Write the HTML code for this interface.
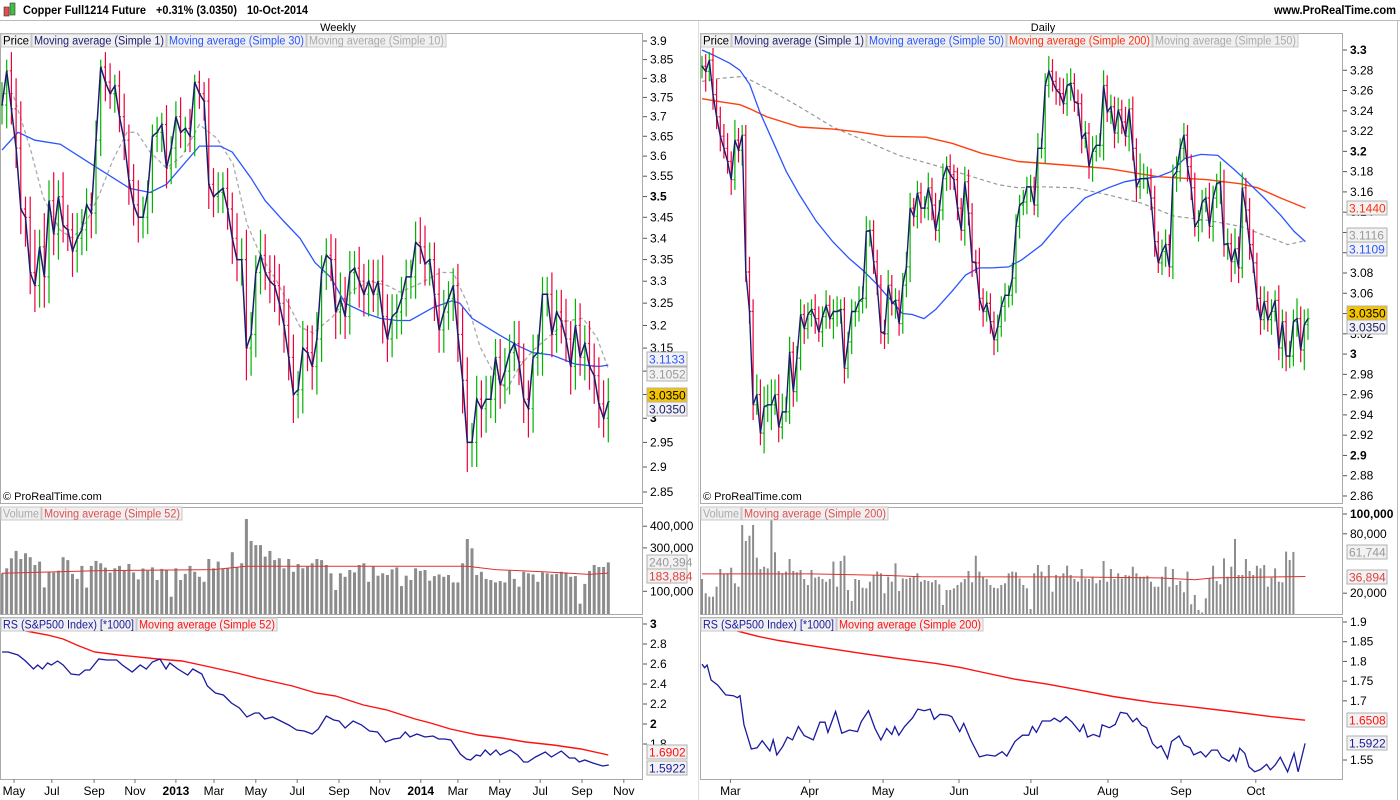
<!DOCTYPE html>
<html><head><meta charset="utf-8"><style>
html,body{margin:0;padding:0;background:#fff;}
svg{display:block;font-family:"Liberation Sans",Arial,sans-serif;}
</style></head><body>
<svg id="chart" width="1400" height="800" viewBox="0 0 1400 800" xmlns="http://www.w3.org/2000/svg">
<defs>
<clipPath id="cwp"><rect x="1" y="48" width="641" height="455"/></clipPath>
<clipPath id="cwv"><rect x="1" y="519" width="641" height="95"/></clipPath>
<clipPath id="cwr"><rect x="1" y="618" width="641" height="161"/></clipPath>
<clipPath id="cdp"><rect x="701" y="48" width="641" height="455"/></clipPath>
<clipPath id="cdv"><rect x="701" y="519" width="641" height="95"/></clipPath>
<clipPath id="cdr"><rect x="701" y="618" width="641" height="161"/></clipPath>
</defs>
<rect x="0" y="0" width="1400" height="800" fill="#fff"/>
<g>
<rect x="4" y="7" width="5" height="9" fill="#e05050" stroke="#333" stroke-width="0.6"/>
<rect x="10" y="3" width="5" height="12" fill="#40c040" stroke="#333" stroke-width="0.6"/>
<text x="23" y="14" font-size="12" font-weight="bold" fill="#000" textLength="123" lengthAdjust="spacingAndGlyphs">Copper Full1214 Future</text>
<text x="156" y="14" font-size="12" font-weight="bold" fill="#000" textLength="81" lengthAdjust="spacingAndGlyphs">+0.31% (3.0350)</text>
<text x="247" y="14" font-size="12" font-weight="bold" fill="#000" textLength="61" lengthAdjust="spacingAndGlyphs">10-Oct-2014</text>
<text x="1274" y="14" font-size="12" font-weight="bold" fill="#000" textLength="122" lengthAdjust="spacingAndGlyphs">www.ProRealTime.com</text>
<line x1="0" y1="20.5" x2="1400" y2="20.5" stroke="#bbb"/>
</g>
<text x="338" y="31" font-size="11" text-anchor="middle">Weekly</text>
<text x="1043" y="31" font-size="11" text-anchor="middle">Daily</text>
<line x1="1397.5" y1="21" x2="1397.5" y2="800" stroke="#bbb"/>
<line x1="698.5" y1="21" x2="698.5" y2="800" stroke="#ddd"/>
<g id="frames"></g>
<g id="marks"></g>
<g id="labels"></g>
</svg>
<script>
// ===== Weekly data =====
const wkClose=[3.73,3.82,3.72,3.62,3.47,3.45,3.32,3.29,3.38,3.31,3.49,3.41,3.50,3.43,3.42,3.37,3.40,3.42,3.48,3.46,3.64,3.83,3.79,3.76,3.78,3.70,3.64,3.54,3.48,3.45,3.45,3.51,3.65,3.66,3.68,3.57,3.62,3.70,3.66,3.67,3.65,3.79,3.76,3.74,3.53,3.50,3.51,3.52,3.47,3.40,3.35,3.35,3.15,3.18,3.32,3.36,3.32,3.30,3.29,3.25,3.20,3.13,3.05,3.06,
3.15,3.14,3.11,3.17,3.32,3.36,3.35,3.23,3.26,3.22,3.32,3.33,3.30,3.27,3.30,3.27,3.30,3.22,3.17,3.22,3.23,3.26,3.31,3.31,3.39,3.38,3.34,3.35,3.27,3.19,3.23,3.26,3.29,3.18,3.08,2.95,2.95,3.04,3.02,3.04,3.04,3.13,3.07,3.10,3.14,3.16,3.12,3.04,3.02,3.13,3.14,3.27,3.27,3.18,3.23,3.21,3.17,3.11,3.20,3.13,3.16,3.11,3.09,3.03,3.00,3.035];
const wkHiWick=[0.06,0.03,0.05,0.08,0.12,0.03,0.05,0.10,0.04,0.08,0.05,0.07,0.04,0.06,0.05,0.04,0.06,0.05,0.04,0.03,0.05,0.02,0.04,0.05,0.03,0.04,0.06,0.04,0.04,0.06,0.05,0.03,0.03,0.04,0.03,0.05,0.03,0.04,0.05,0.03,0.05,0.02,0.03,0.03,0.06,0.04,0.05,0.04,0.05,0.04,0.06,0.05,0.07,0.05,0.04,0.06,0.05,0.04,0.06,0.05,0.04,0.06,0.05,0.04,
0.06,0.05,0.06,0.06,0.04,0.04,0.05,0.05,0.06,0.05,0.05,0.04,0.05,0.04,0.05,0.05,0.05,0.06,0.05,0.05,0.04,0.05,0.04,0.04,0.05,0.06,0.05,0.04,0.04,0.06,0.05,0.04,0.04,0.05,0.06,0.05,0.04,0.05,0.04,0.05,0.05,0.04,0.04,0.05,0.04,0.05,0.05,0.04,0.04,0.05,0.04,0.04,0.04,0.05,0.05,0.05,0.05,0.04,0.06,0.05,0.04,0.05,0.05,0.04,0.05,0.05];
const wkLoWick=[0.05,0.06,0.04,0.05,0.06,0.07,0.05,0.06,0.05,0.07,0.06,0.05,0.06,0.04,0.05,0.06,0.05,0.04,0.05,0.06,0.05,0.04,0.05,0.04,0.05,0.04,0.05,0.06,0.05,0.06,0.05,0.04,0.05,0.04,0.05,0.05,0.04,0.05,0.04,0.05,0.04,0.05,0.04,0.05,0.06,0.05,0.04,0.05,0.05,0.06,0.05,0.06,0.07,0.06,0.05,0.05,0.04,0.05,0.06,0.05,0.06,0.05,0.06,0.05,
0.05,0.04,0.05,0.06,0.05,0.04,0.05,0.06,0.05,0.05,0.04,0.05,0.06,0.05,0.05,0.04,0.05,0.06,0.05,0.04,0.05,0.05,0.04,0.05,0.05,0.04,0.05,0.05,0.06,0.05,0.05,0.04,0.05,0.06,0.07,0.06,0.05,0.05,0.06,0.05,0.04,0.05,0.05,0.04,0.05,0.04,0.05,0.05,0.06,0.05,0.04,0.05,0.05,0.05,0.04,0.05,0.05,0.06,0.05,0.04,0.05,0.05,0.06,0.05,0.04,0.05];
const wkMa30Idx=[0,3.4,7,12.4,19,27.2,31.5,35,42,46.4,49,53,56,60,63.4,66.6,70,73,77.7,80.4,84,86.8,91.7,95.7,97.4,100,106,110,113,117,122,127,129];
const wkMa30Val=[3.615,3.66,3.64,3.63,3.58,3.52,3.51,3.53,3.625,3.625,3.61,3.545,3.49,3.44,3.40,3.343,3.308,3.25,3.226,3.216,3.211,3.211,3.24,3.255,3.25,3.216,3.178,3.154,3.14,3.135,3.115,3.11,3.113];
const wkMa10Idx=[0,2.3,6,8.7,12.3,15,18,20.9,23.6,26.6,28.7,31.5,35,38.3,42,45.7,49.2,52.1,55,58.5,63.4,66.2,70.4,74.7,78.3,82,84.7,89,93.2,96,99,101.7,104.5,107.4,110,113,117.2,120.2,123.6,126.6,129];
const wkMa10Val=[3.76,3.76,3.62,3.50,3.42,3.40,3.44,3.51,3.59,3.66,3.66,3.61,3.57,3.60,3.68,3.645,3.58,3.435,3.36,3.30,3.197,3.183,3.22,3.28,3.30,3.29,3.275,3.295,3.32,3.32,3.25,3.153,3.098,3.06,3.108,3.145,3.183,3.21,3.216,3.173,3.105];
const wkVolume=[183,206,252,286,249,275,257,221,237,118,190,186,195,257,244,180,157,217,117,217,240,229,209,186,206,217,195,226,187,155,205,195,210,152,203,198,75,206,152,180,217,190,167,144,249,206,237,203,206,280,210,229,467,332,313,313,260,286,244,252,206,249,190,226,206,214,229,249,244,221,183,106,183,167,198,187,221,229,144,214,172,183,175,201,210,124,172,152,206,194,198,149,170,178,167,175,141,141,229,341,298,175,190,157,152,141,147,141,195,157,121,190,183,178,144,187,183,178,180,190,187,167,170,43,134,194,221,212,212,233];
const wkVolMaIdx=[0,20,45,52,70,90,99,105,115,125,129];
const wkVolMaVal=[183,195,200,215,215,215,215,200,190,178,184];
const wkRsIdx=[0,1.3,3.4,5,6.7,7.6,8.6,9.7,10.5,11.8,13,14.7,16.4,17.7,18.7,20.6,22.3,24.4,25.6,27.7,29.4,30.7,32,33.6,34.9,35.7,37.4,39.5,40.6,42.5,43.7,45.4,47.1,48.8,50.5,52.1,53.8,54.7,55.9,57.6,59.3,61,62.7,64.3,66,67.3,69,70.6,71.7,73,74.7,76.5,78.2,79.9,81.6,83.3,84.7,85.8,86.8,88.3,90,91.7,92.9,94.2,95.5,97.5,98.8,99.7,100.9,101.8,102.8,103.9,105.1,106,108.1,109.7,111,111.9,113.5,115.6,116.9,119,120.7,121.9,122.8,124,125.7,127.8,129.1];
const wkRsVal=[2.72,2.72,2.69,2.63,2.55,2.59,2.55,2.61,2.59,2.63,2.59,2.50,2.49,2.54,2.54,2.65,2.64,2.64,2.59,2.52,2.59,2.55,2.62,2.65,2.55,2.61,2.55,2.49,2.55,2.50,2.38,2.31,2.29,2.21,2.16,2.07,2.11,2.11,2.05,2.07,2.03,1.99,1.94,1.93,1.90,1.95,2.08,2.04,2.03,1.96,2.03,1.99,1.93,1.92,1.82,1.85,1.86,1.92,1.87,1.90,1.87,1.88,1.85,1.85,1.84,1.70,1.65,1.64,1.69,1.68,1.74,1.69,1.74,1.69,1.74,1.69,1.62,1.62,1.67,1.72,1.67,1.73,1.66,1.66,1.62,1.64,1.61,1.58,1.59];
const wkRsMaIdx=[0,5,9.7,13,16.4,19.7,24.8,33.2,38.3,43.3,50,54.2,61.8,66.8,71,76.9,81.9,87.9,91.2,95.4,101.3,106.4,111.4,117.3,123.2,129];
const wkRsMaVal=[3.02,2.93,2.89,2.85,2.78,2.72,2.69,2.65,2.63,2.58,2.51,2.46,2.38,2.31,2.28,2.19,2.14,2.05,2.01,1.95,1.89,1.86,1.82,1.79,1.75,1.69];
const wkMonthLabels=["May","Jul","Sep","Nov","2013","Mar","May","Jul","Sep","Nov","2014","Mar","May","Jul","Sep","Nov"];
const wkMonthIdx=[2.55,10.6,19.6,28.3,37,45.1,54,62.8,71.7,80.4,89.1,97,105.9,114.5,123.4,132.3];
const wkPriceTicks=[3.9,3.85,3.8,3.75,3.7,3.65,3.6,3.55,3.5,3.45,3.4,3.35,3.3,3.25,3.2,3.15,3.1,3.05,3,2.95,2.9,2.85];
const wkVolTicks=[400000,300000,100000];
const wkRsTicks=[3,2.8,2.6,2.4,2.2,2,1.8];

// ===== Daily data =====
const dyClose=[3.284,3.279,3.29,3.256,3.234,3.215,3.203,3.19,3.172,3.211,3.201,3.216,3.081,3.042,2.95,2.96,2.922,2.948,2.95,2.95,2.96,2.928,2.943,2.943,3.002,2.963,2.996,3.039,3.025,3.039,3.044,3.035,3.022,3.037,3.048,3.035,3.042,3.042,3.044,2.986,3.012,3.042,3.042,3.052,3.055,3.121,3.122,3.091,3.068,3.022,3.02,3.068,3.05,3.053,3.03,3.068,3.086,3.144,3.136,3.159,3.144,3.144,3.164,3.147,3.122,3.142,3.173,3.185,3.177,3.172,3.144,3.122,3.17,3.139,3.091,3.09,3.055,3.042,3.05,3.032,3.014,3.027,3.047,3.058,3.058,3.075,3.126,3.147,
3.15,3.165,3.165,3.147,3.203,3.203,3.265,3.279,3.269,3.261,3.257,3.247,3.265,3.267,3.249,3.247,3.213,3.218,3.185,3.2,3.206,3.206,3.265,3.239,3.244,3.218,3.241,3.229,3.215,3.242,3.203,3.165,3.173,3.173,3.173,3.154,3.111,3.09,3.101,3.108,3.086,3.175,3.18,3.203,3.216,3.185,3.164,3.126,3.132,3.15,3.154,3.126,3.154,3.168,3.17,3.108,3.109,3.091,3.104,3.085,3.164,3.142,3.108,3.09,3.055,3.034,3.052,3.034,3.042,3.053,3.006,3.032,2.998,2.998,3.032,3.035,3.004,3.029,3.035];
const dyHiWick=[0.01,0.012,0.008,0.02,0.015,0.01,0.012,0.015,0.01,0.02,0.012,0.01,0.01,0.015,0.012,0.02,0.015,0.02,0.02,0.025,0.015,0.02,0.018,0.015,0.015,0.01,0.012,0.015,0.01,0.012,0.01,0.015,0.012,0.01,0.015,0.01,0.012,0.015,0.01,0.012,0.01,0.012,0.01,0.015,0.012,0.015,0.01,0.01,0.012,0.01,0.012,0.015,0.01,0.012,0.01,0.012,0.015,0.015,0.01,0.012,0.01,0.012,0.015,0.01,0.012,0.01,0.015,0.01,0.012,0.01,0.012,0.01,0.015,0.012,0.01,0.012,0.015,0.01,0.012,0.01,0.01,0.012,0.01,0.012,0.01,0.015,0.012,0.01,
0.012,0.01,0.012,0.01,0.015,0.01,0.012,0.015,0.012,0.01,0.012,0.015,0.012,0.015,0.01,0.012,0.01,0.012,0.01,0.015,0.01,0.012,0.015,0.01,0.012,0.01,0.012,0.01,0.015,0.01,0.012,0.01,0.025,0.015,0.012,0.01,0.012,0.01,0.012,0.015,0.01,0.012,0.015,0.01,0.012,0.01,0.012,0.015,0.01,0.012,0.01,0.015,0.012,0.01,0.02,0.012,0.015,0.01,0.02,0.012,0.015,0.01,0.012,0.015,0.01,0.012,0.015,0.01,0.012,0.01,0.015,0.012,0.01,0.015,0.012,0.02,0.012,0.015,0.01];
const dyLoWick=[0.012,0.02,0.01,0.015,0.012,0.015,0.01,0.012,0.015,0.01,0.012,0.015,0.01,0.012,0.015,0.01,0.012,0.02,0.015,0.025,0.01,0.015,0.012,0.01,0.012,0.015,0.01,0.012,0.015,0.01,0.012,0.015,0.01,0.015,0.012,0.01,0.02,0.015,0.012,0.015,0.01,0.012,0.015,0.01,0.012,0.01,0.015,0.012,0.01,0.012,0.015,0.01,0.012,0.015,0.012,0.01,0.012,0.015,0.01,0.012,0.015,0.01,0.012,0.015,0.01,0.012,0.01,0.012,0.015,0.01,0.012,0.01,0.015,0.012,0.015,0.01,0.012,0.015,0.01,0.012,0.015,0.012,0.01,0.015,0.012,0.01,0.015,0.012,
0.01,0.012,0.015,0.01,0.012,0.01,0.015,0.012,0.01,0.015,0.012,0.01,0.012,0.015,0.01,0.012,0.015,0.01,0.012,0.015,0.01,0.012,0.015,0.01,0.012,0.015,0.01,0.012,0.01,0.015,0.012,0.015,0.012,0.01,0.015,0.012,0.015,0.01,0.012,0.015,0.01,0.012,0.015,0.01,0.012,0.015,0.012,0.01,0.015,0.012,0.01,0.012,0.015,0.01,0.02,0.012,0.015,0.02,0.012,0.015,0.01,0.012,0.015,0.01,0.012,0.015,0.01,0.012,0.015,0.01,0.012,0.02,0.015,0.012,0.01,0.015,0.012,0.02,0.015];
const dyMa50Idx=[0,3.1,7.6,10.4,13.1,15.8,19.4,23.1,26.7,31.3,35.8,40.4,44,47.6,51.3,54.9,57.6,60.8,64,68.5,72.2,75.8,79.4,84,87.6,93.1,98.5,104.9,111.3,115.8,120.3,124.9,128.5,132.2,136.7,141.3,145.8,149.4,154,158.5,162.2,165.3];
const dyMa50Val=[3.3,3.295,3.287,3.28,3.266,3.239,3.21,3.18,3.157,3.131,3.111,3.094,3.083,3.07,3.055,3.04,3.039,3.035,3.044,3.062,3.078,3.085,3.085,3.086,3.093,3.108,3.131,3.154,3.164,3.17,3.173,3.175,3.18,3.193,3.197,3.196,3.182,3.17,3.154,3.137,3.121,3.111];
const dyMa200Idx=[0,4.9,10.4,13.1,17.8,26.7,35.8,43.1,50.4,61.3,68.5,76.7,86.7,97.6,111.3,124.9,138.5,147.6,152.2,158.5,165.3];
const dyMa200Val=[3.252,3.249,3.246,3.242,3.234,3.224,3.222,3.219,3.215,3.214,3.208,3.198,3.19,3.187,3.183,3.175,3.172,3.168,3.164,3.154,3.144];
const dyMa150Idx=[0,4.9,11.3,17.8,26.7,35.8,44.9,54,63.1,72.2,81.3,86.7,93.1,102.2,111.3,120.3,129.4,138.5,147.6,154.9,160.4,165.3];
const dyMa150Val=[3.269,3.272,3.274,3.262,3.244,3.224,3.21,3.196,3.187,3.177,3.167,3.164,3.165,3.164,3.157,3.149,3.136,3.132,3.126,3.116,3.108,3.112];
const dyVolume=[34.3,19.9,16.5,16.5,26.6,44.4,39.4,40.1,45.8,30,26.6,88.9,72.7,78.1,88.9,55.9,44.4,46.8,45.1,95,61.3,42.4,40.1,41.8,54.5,42.4,41.1,43.4,34.3,28.3,43.4,35.7,36.7,34.3,31.6,34.3,51.9,26.6,52.5,57.9,23.2,12.1,34.3,33.3,25.6,24.9,31.6,38.4,41.8,40.1,19.9,36.7,31.6,50.2,22.2,35,34.3,35.7,36.7,40.1,31.6,33.3,32.3,31,33.3,29,8.1,23.2,23.2,24.9,28.3,31,34.3,42.4,31,57.9,41.8,36.7,34.3,28.3,25.6,24.9,28.3,30,40.1,41.8,41.1,35,28.3,24.9,4,40.1,48.5,41.8,36.7,48.5,21.5,38.4,36.7,40.1,47.8,38.4,34.3,31.6,44.4,35,34.3,36.7,30,33.3,52.5,31.6,44.4,34.3,40.1,35,38.4,37.7,46.8,40.1,36.7,36.7,37.7,31.6,26.6,26.6,36.7,46.8,26.6,44.4,28.3,32.3,20.9,41.8,8.8,18.2,3,0.5,14.8,35,47.8,32.3,29,55.2,36.7,46.8,74.7,38.4,38.4,54.5,42.4,38.4,47.8,45.1,48.5,26.6,35.7,45.1,31.6,31,62,53.5,61.7];
const dyVolMaIdx=[0,30,50,60,100,125,135,140,165.3];
const dyVolMaVal=[39.5,39.5,38,36.7,36.5,35.5,33.5,35.5,36.9];
const dyRsIdx=[0,0.7,1.4,2.5,4.3,6.5,8.6,9.7,10.4,11.5,13.5,15.1,16.5,18.6,19.5,20.5,22.1,23.4,24.8,26.4,28,30.5,32.3,33.7,34.5,36.6,38.3,40.4,42.6,43.6,45.6,47.4,49,50.6,52,52.8,53.9,55.5,57.7,59.1,60.9,62.5,63.6,65.2,67.4,68.4,70.6,71.7,73.6,76,78.1,80.3,82.2,83.5,85.7,87.8,89.5,90.5,91.6,93.2,95.4,96.5,98.1,99.7,101.3,103.5,104.5,105.6,107.2,108.9,109.6,111.6,113.2,114.6,116.4,118,119.1,120.4,121.8,123.4,124.7,125.8,127.5,128.6,130.7,132,133.7,134.7,136.6,138,139.6,141.2,142.3,144.4,145.5,146.3,147.3,148.7,149.8,151.4,153,154.7,155.7,157,158.4,160.4,162.2,163.3,165.2];
const dyRsVal=[1.793,1.784,1.791,1.753,1.740,1.715,1.713,1.708,1.713,1.639,1.578,1.581,1.599,1.573,1.601,1.563,1.584,1.608,1.601,1.635,1.612,1.601,1.646,1.646,1.620,1.673,1.618,1.626,1.622,1.647,1.675,1.630,1.601,1.630,1.615,1.635,1.613,1.635,1.657,1.679,1.675,1.679,1.653,1.666,1.664,1.660,1.622,1.643,1.601,1.558,1.563,1.560,1.571,1.560,1.597,1.613,1.613,1.635,1.620,1.649,1.649,1.656,1.647,1.660,1.647,1.622,1.640,1.608,1.615,1.609,1.639,1.632,1.640,1.671,1.668,1.647,1.656,1.639,1.632,1.592,1.580,1.586,1.554,1.597,1.611,1.588,1.581,1.563,1.571,1.558,1.575,1.575,1.558,1.547,1.563,1.547,1.580,1.567,1.533,1.520,1.526,1.539,1.525,1.537,1.557,1.520,1.567,1.520,1.592];
const dyRsMaIdx=[0,9.7,15.6,21,28.5,36.1,44.7,53.3,64.1,70.6,77.1,85.7,94.3,103,112.6,123.4,134.2,145,155.8,165.2];
const dyRsMaVal=[1.93,1.877,1.863,1.853,1.842,1.831,1.819,1.808,1.795,1.785,1.772,1.755,1.743,1.728,1.711,1.696,1.685,1.673,1.66,1.651];
const dyMonthLabels=["Mar","Apr","May","Jun","Jul","Aug","Sep","Oct"];
const dyMonthIdx=[7.8,29.5,49.6,70.4,90.1,111.2,131.2,151.7];
const dyPriceTicks=[3.3,3.28,3.26,3.24,3.22,3.2,3.18,3.16,3.14,3.12,3.1,3.08,3.06,3.04,3.02,3,2.98,2.96,2.94,2.92,2.9,2.88,2.86];
const dyVolTicks=[100000,80000,20000];
const dyRsTicks=[1.9,1.85,1.8,1.75,1.7,1.55];

// ===== scales =====
const NS="http://www.w3.org/2000/svg";
const wx=i=>2+i*4.7;
const dx=i=>702+i*(1308-702)/(dyClose.length-1);
const WLOGTOP=Math.log(3.9), WLOGK=451/(Math.log(3.9)-Math.log(2.85));
const wy=v=>41+(WLOGTOP-Math.log(v))*WLOGK;   // weekly price axis is logarithmic
const dyy=v=>50+(3.3-v)*1013.6;
const wvy=k=>613-k*0.217;
const dvy=k=>613-k*0.99;
const wry=v=>624+(3-v)*100;
const dry=v=>622+(1.9-v)*394.3;

function mk(tag,attrs,parent){const e=document.createElementNS(NS,tag);for(const k in attrs)e.setAttribute(k,attrs[k]);parent.appendChild(e);return e;}
const frames=document.getElementById('frames');
const marks=document.getElementById('marks');
const labels=document.getElementById('labels');

[[0.5,33.5,642,470,'weekly-price-panel'],[0.5,507.5,642,107,'weekly-volume-panel'],[0.5,617.5,642,162,'weekly-rs-panel'],
 [700.5,33.5,642,470,'daily-price-panel'],[700.5,507.5,642,107,'daily-volume-panel'],[700.5,617.5,642,162,'daily-rs-panel']].forEach(f=>{
  const r=mk('rect',{x:f[0],y:f[1],width:f[2],height:f[3],fill:'none',stroke:'#aaa'},frames);
  
  
});

function polyline(xs,ys,color,w,clip,name,dash){
  let d='';
  for(let i=0;i<xs.length;i++)d+=(i?'L':'M')+xs[i].toFixed(1)+' '+ys[i].toFixed(1);
  const p=mk('path',{d:d,fill:'none',stroke:color,'stroke-width':w,'clip-path':'url(#'+clip+')'},marks);
  if(dash)p.setAttribute('stroke-dasharray',dash);
  
  
}

function drawBars(close,hiW,loW,xf,yf,clip,prefix){
  const g=mk('g',{'clip-path':'url(#'+clip+')'},marks);
  
  
  for(let i=0;i<close.length;i++){
    const o=i?close[i-1]:close[i], c=close[i];
    const hi=Math.max(o,c)+hiW[i], lo=Math.min(o,c)-loW[i];
    const col=c>=o?'#00b400':'#f0003c';
    const x=xf(i);
    const b=mk('path',{d:'M'+x.toFixed(1)+' '+yf(hi).toFixed(1)+'V'+yf(lo).toFixed(1)+'M'+(x-1.5).toFixed(1)+' '+yf(o).toFixed(1)+'h1.5M'+x.toFixed(1)+' '+yf(c).toFixed(1)+'h1.5',stroke:col,'stroke-width':1.2,fill:'none'},g);
    
    
  }
}
function drawVol(vals,xf,yf,w,clip,prefix){
  const g=mk('g',{'clip-path':'url(#'+clip+')'},marks);
  
  
  for(let i=0;i<vals.length;i++){
    const y=yf(vals[i]);
    const r=mk('rect',{x:(xf(i)-w/2).toFixed(1),y:y.toFixed(1),width:w,height:(614-y).toFixed(1),fill:'#8c8c8c'},g);
    
    
  }
}

polyline(wkMa10Idx.map(wx),wkMa10Val.map(wy),'#aaa',1.3,'cwp','weekly-ma10-line','4,3');
polyline(wkMa30Idx.map(wx),wkMa30Val.map(wy),'#2a55ff',1.3,'cwp','weekly-ma30-line');
drawBars(wkClose,wkHiWick,wkLoWick,wx,wy,'cwp','weekly');
polyline(wkClose.map((v,i)=>wx(i)),wkClose.map(wy),'#1c1c6c',1.5,'cwp','weekly-close-line');
drawVol(wkVolume,wx,wvy,3,'cwv','weekly');
polyline(wkVolMaIdx.map(wx),wkVolMaVal.map(wvy),'#e03030',1,'cwv','weekly-volume-ma-line');
polyline(wkRsMaIdx.map(wx),wkRsMaVal.map(wry),'#ff1010',1.4,'cwr','weekly-rs-ma-line');
polyline(wkRsIdx.map(wx),wkRsVal.map(wry),'#1a1aa0',1.3,'cwr','weekly-rs-line');

polyline(dyMa150Idx.map(dx),dyMa150Val.map(dyy),'#999',1.2,'cdp','daily-ma150-line','4,3');
polyline(dyMa200Idx.map(dx),dyMa200Val.map(dyy),'#ff4010',1.4,'cdp','daily-ma200-line');
polyline(dyMa50Idx.map(dx),dyMa50Val.map(dyy),'#2a55ff',1.3,'cdp','daily-ma50-line');
drawBars(dyClose,dyHiWick,dyLoWick,dx,dyy,'cdp','daily');
polyline(dyClose.map((v,i)=>dx(i)),dyClose.map(dyy),'#1c1c6c',1.4,'cdp','daily-close-line');
drawVol(dyVolume,dx,dvy,2,'cdv','daily');
polyline(dyVolMaIdx.map(dx),dyVolMaVal.map(dvy),'#e03030',1,'cdv','daily-volume-ma-line');
polyline(dyRsMaIdx.map(dx),dyRsMaVal.map(dry),'#ff1010',1.4,'cdr','daily-rs-ma-line');
polyline(dyRsIdx.map(dx),dyRsVal.map(dry),'#1a1aa0',1.3,'cdr','daily-rs-line');

function ytick(x,y,txt,bold,name){
  const l=mk('line',{x1:x,y1:y,x2:x+4,y2:y,stroke:'#555'},labels);
  
  
  const t=mk('text',{x:x+7,y:y+4,'font-size':12,fill:'#000','font-weight':bold?'bold':'normal'},labels);
  t.textContent=txt;
  
  
}
const fmtK=v=>v.toLocaleString('en-US');
wkPriceTicks.forEach(v=>ytick(643,wy(v),String(v),v===3.5||v===3,'weekly-price-axis'));
wkVolTicks.forEach(v=>ytick(643,wvy(v/1000),fmtK(v),false,'weekly-volume-axis'));
wkRsTicks.forEach(v=>ytick(643,wry(v),String(v),v===3||v===2,'weekly-rs-axis'));
dyPriceTicks.forEach(v=>ytick(1343,dyy(v),String(v),v===3.3||v===3.2||v===3||v===2.9,'daily-price-axis'));
dyVolTicks.forEach(v=>ytick(1343,dvy(v/1000),fmtK(v),v===100000,'daily-volume-axis'));
dyRsTicks.forEach(v=>ytick(1343,dry(v),String(v),false,'daily-rs-axis'));

function valBox(x,y,txt,color,bg,name){
  const r=mk('rect',{x:x,y:y-7,width:40,height:14,fill:bg,stroke:'#b0b0b0'},labels);
  
  
  const t=mk('text',{x:x+2,y:y+4.5,'font-size':12,fill:color},labels);
  t.textContent=txt;
  
  
}
valBox(647,359,'3.1133','#2a55ff','#f2f2f2','weekly-ma30-value');
valBox(647,374,'3.1052','#999','#f2f2f2','weekly-ma10-value');
valBox(647,395,'3.0350','#000','#f5c400','weekly-last-price');
valBox(647,409,'3.0350','#1c1c6c','#f2f2f2','weekly-close-value');
valBox(647,562,'240,394','#999','#f2f2f2','weekly-volume-value');
valBox(647,576,'183,884','#e04040','#f2f2f2','weekly-volume-ma-value');
valBox(647,752,'1.6902','#ff1010','#f2f2f2','weekly-rs-ma-value');
valBox(647,768,'1.5922','#1a1aa0','#f2f2f2','weekly-rs-value');
valBox(1347,208,'3.1440','#ff3010','#f2f2f2','daily-ma200-value');
valBox(1347,235,'3.1116','#999','#f2f2f2','daily-ma150-value');
valBox(1347,249,'3.1109','#2a55ff','#f2f2f2','daily-ma50-value');
valBox(1347,313,'3.0350','#000','#f5c400','daily-last-price');
valBox(1347,327,'3.0350','#1c1c6c','#f2f2f2','daily-close-value');
valBox(1347,552,'61,744','#999','#f2f2f2','daily-volume-value');
valBox(1347,577,'36,894','#e04040','#f2f2f2','daily-volume-ma-value');
valBox(1347,720,'1.6508','#ff1010','#f2f2f2','daily-rs-ma-value');
valBox(1347,743,'1.5922','#1a1aa0','#f2f2f2','daily-rs-value');

function xlab(x,txt,name){
  const bold=/^\d{4}$/.test(txt);
  const l=mk('line',{x1:x,y1:779,x2:x,y2:783,stroke:'#777'},labels);
  
  
  const t=mk('text',{x:x,y:795,'font-size':12,'text-anchor':'middle','font-weight':bold?'bold':'normal',fill:'#000'},labels);
  t.textContent=txt;
  
  
}
wkMonthLabels.forEach((m,i)=>xlab(wx(wkMonthIdx[i]),m,'weekly-x-axis'));
dyMonthLabels.forEach((m,i)=>xlab(dx(dyMonthIdx[i]),m,'daily-x-axis'));

function legend(x,y,items,name){
  items.forEach((it,k)=>{
    const r=mk('rect',{x:x,y:y,width:it[2],height:13,fill:'#f0f0f0',stroke:'#c8c8c8'},labels);
    
    
    const t=mk('text',{x:x+2,y:y+10.5,'font-size':11.5,fill:it[1],textLength:it[2]-4,lengthAdjust:'spacingAndGlyphs'},labels);
    t.textContent=it[0];
    
    
    x+=it[2]+1;
  });
}
legend(1,34,[['Price','#000',30],['Moving average (Simple 1)','#1c1c6c',134],['Moving average (Simple 30)','#2a55ff',139],['Moving average (Simple 10)','#aaa',139]],'weekly-price-legend');
legend(701,34,[['Price','#000',30],['Moving average (Simple 1)','#1c1c6c',134],['Moving average (Simple 50)','#2a55ff',139],['Moving average (Simple 200)','#ff3010',145],['Moving average (Simple 150)','#aaa',145]],'daily-price-legend');
legend(1,507,[['Volume','#aaa',40],['Moving average (Simple 52)','#e05050',140]],'weekly-volume-legend');
legend(701,507,[['Volume','#aaa',40],['Moving average (Simple 200)','#e05050',146]],'daily-volume-legend');
legend(1,618,[['RS (S&P500 Index) [*1000]','#1a1aa0',135],['Moving average (Simple 52)','#ff1010',140]],'weekly-rs-legend');
legend(701,618,[['RS (S&P500 Index) [*1000]','#1a1aa0',135],['Moving average (Simple 200)','#ff1010',146]],'daily-rs-legend');

[[3,'weekly-copyright'],[703,'daily-copyright']].forEach(c=>{
  const t=mk('text',{x:c[0],y:500,'font-size':11,fill:'#000'},labels);
  t.textContent='\u00A9 ProRealTime.com';
  
  
});
</script>
</body></html>
